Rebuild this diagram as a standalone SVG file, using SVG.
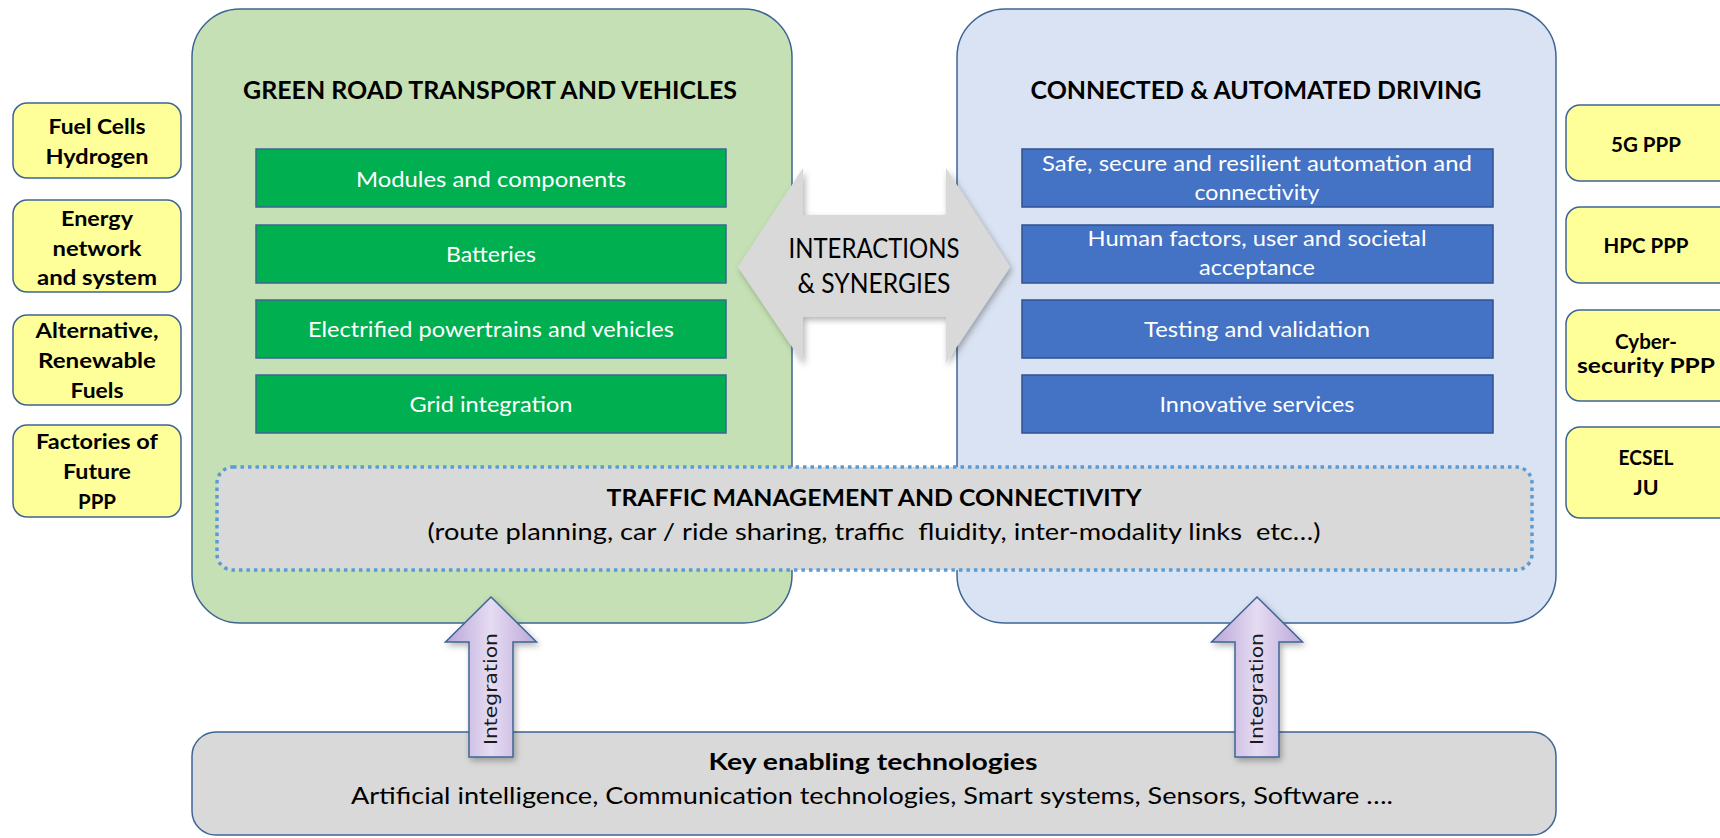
<svg xmlns="http://www.w3.org/2000/svg" width="1720" height="838" viewBox="0 0 1720 838">
  <defs>
    <style>
      .t { font-family: Lato, "Liberation Sans", Arial, sans-serif; text-anchor: middle; }
      .b { font-weight: bold; }
      .blk { fill: #000000; }
      .wht { fill: #FFFFFF; }
      .yel { fill: #FFFF99; stroke: #3D6594; stroke-width: 1.5; }
      .cont { stroke: #3D6594; stroke-width: 1.5; }
      .gbox { fill: #00B050; stroke: #3D6594; stroke-width: 1.5; }
      .bbox { fill: #4472C4; stroke: #2F528F; stroke-width: 1.5; }
      .integ { fill: url(#lav); stroke: #3D6594; stroke-width: 1.5; }
      .itxt { font-family: "DejaVu Sans", Verdana, sans-serif; text-anchor: middle; fill: #1A1A1A; }
    </style>
    <linearGradient id="lav" x1="0" y1="0" x2="1" y2="0">
      <stop offset="0" stop-color="#B9A5D8"/>
      <stop offset="0.5" stop-color="#E6DCF2"/>
      <stop offset="1" stop-color="#BBA7D9"/>
    </linearGradient>
    <filter id="shadow" x="-10%" y="-10%" width="130%" height="130%">
      <feDropShadow dx="2" dy="3" stdDeviation="3" flood-color="#000" flood-opacity="0.3"/>
    </filter>
  </defs>

  <!-- Containers -->
  <g id="green-container">
    <rect class="cont" x="192" y="9" width="600" height="614" rx="48" fill="#C5E0B4"/>
    <text class="t b blk" x="490" y="99" font-size="24" textLength="494" lengthAdjust="spacingAndGlyphs">GREEN ROAD TRANSPORT AND VEHICLES</text>
  </g>
  <g id="blue-container">
    <rect class="cont" x="957" y="9" width="599" height="614" rx="48" fill="#DAE3F3"/>
    <text class="t b blk" x="1256" y="99" font-size="24" textLength="451" lengthAdjust="spacingAndGlyphs">CONNECTED &amp; AUTOMATED DRIVING</text>
  </g>

  <!-- Green inner boxes -->
  <g id="modules">
    <rect class="gbox" x="256" y="149" width="470" height="58"/>
    <text class="t wht" x="491" y="187" font-size="22" textLength="270" lengthAdjust="spacingAndGlyphs">Modules and components</text>
  </g>
  <g id="batteries">
    <rect class="gbox" x="256" y="225" width="470" height="58"/>
    <text class="t wht" x="491" y="262" font-size="22" textLength="90" lengthAdjust="spacingAndGlyphs">Batteries</text>
  </g>
  <g id="powertrains">
    <rect class="gbox" x="256" y="300" width="470" height="58"/>
    <text class="t wht" x="491" y="337" font-size="22" textLength="366" lengthAdjust="spacingAndGlyphs">Electrified powertrains and vehicles</text>
  </g>
  <g id="grid">
    <rect class="gbox" x="256" y="375" width="470" height="58"/>
    <text class="t wht" x="491" y="412" font-size="22" textLength="163" lengthAdjust="spacingAndGlyphs">Grid integration</text>
  </g>

  <!-- Blue inner boxes -->
  <g id="safe">
    <rect class="bbox" x="1022" y="149" width="471" height="58"/>
    <text class="t wht" x="1257" y="171" font-size="22" textLength="430" lengthAdjust="spacingAndGlyphs">Safe, secure and resilient automation and</text>
    <text class="t wht" x="1257" y="200" font-size="22" textLength="125" lengthAdjust="spacingAndGlyphs">connectivity</text>
  </g>
  <g id="human">
    <rect class="bbox" x="1022" y="225" width="471" height="58"/>
    <text class="t wht" x="1257" y="246" font-size="22" textLength="339" lengthAdjust="spacingAndGlyphs">Human factors, user and societal</text>
    <text class="t wht" x="1257" y="275" font-size="22" textLength="116" lengthAdjust="spacingAndGlyphs">acceptance</text>
  </g>
  <g id="testing">
    <rect class="bbox" x="1022" y="300" width="471" height="58"/>
    <text class="t wht" x="1257" y="337" font-size="22" textLength="226" lengthAdjust="spacingAndGlyphs">Testing and validation</text>
  </g>
  <g id="innovative">
    <rect class="bbox" x="1022" y="375" width="471" height="58"/>
    <text class="t wht" x="1257" y="412" font-size="22" textLength="195" lengthAdjust="spacingAndGlyphs">Innovative services</text>
  </g>

  <!-- Traffic management -->
  <g id="traffic">
    <rect x="217" y="467" width="1315" height="103" rx="16" fill="#D9D9D9" stroke="#5B9BD5" stroke-width="3.5" stroke-dasharray="3.5 4"/>
    <text class="t b blk" x="874" y="506" font-size="23" textLength="535" lengthAdjust="spacingAndGlyphs">TRAFFIC MANAGEMENT AND CONNECTIVITY</text>
    <text class="t blk" x="874" y="540" font-size="23" textLength="893" lengthAdjust="spacingAndGlyphs" style="white-space:pre">(route planning, car / ride sharing, traffic  fluidity, inter-modality links  etc…)</text>
  </g>

  <!-- Key enabling technologies -->
  <g id="key">
    <rect class="cont" x="192" y="732" width="1364" height="103" rx="24" fill="#D9D9D9"/>
    <text class="t b blk" x="873" y="770" font-size="23" textLength="329" lengthAdjust="spacingAndGlyphs">Key enabling technologies</text>
    <text class="t blk" x="872" y="804" font-size="23" textLength="1042" lengthAdjust="spacingAndGlyphs">Artificial intelligence, Communication technologies, Smart systems, Sensors, Software ….</text>
  </g>

  <!-- Left yellow boxes -->
  <g id="fuel-cells">
    <rect class="yel" x="13" y="103" width="168" height="75" rx="14"/>
    <text class="t b blk" x="97" y="134" font-size="21" textLength="97" lengthAdjust="spacingAndGlyphs">Fuel Cells</text>
    <text class="t b blk" x="97" y="164" font-size="21" textLength="103" lengthAdjust="spacingAndGlyphs">Hydrogen</text>
  </g>
  <g id="energy">
    <rect class="yel" x="13" y="200" width="168" height="92" rx="14"/>
    <text class="t b blk" x="97" y="226" font-size="21" textLength="72" lengthAdjust="spacingAndGlyphs">Energy</text>
    <text class="t b blk" x="97" y="256" font-size="21" textLength="89" lengthAdjust="spacingAndGlyphs">network</text>
    <text class="t b blk" x="97" y="285" font-size="21" textLength="120" lengthAdjust="spacingAndGlyphs">and system</text>
  </g>
  <g id="alternative">
    <rect class="yel" x="13" y="315" width="168" height="90" rx="14"/>
    <text class="t b blk" x="97" y="338" font-size="21" textLength="123" lengthAdjust="spacingAndGlyphs">Alternative,</text>
    <text class="t b blk" x="97" y="368" font-size="21" textLength="118" lengthAdjust="spacingAndGlyphs">Renewable</text>
    <text class="t b blk" x="97" y="398" font-size="21" textLength="53" lengthAdjust="spacingAndGlyphs">Fuels</text>
  </g>
  <g id="factories">
    <rect class="yel" x="13" y="425" width="168" height="92" rx="14"/>
    <text class="t b blk" x="97" y="449" font-size="21" textLength="122" lengthAdjust="spacingAndGlyphs">Factories of</text>
    <text class="t b blk" x="97" y="479" font-size="21" textLength="68" lengthAdjust="spacingAndGlyphs">Future</text>
    <text class="t b blk" x="97" y="509" font-size="21" textLength="38" lengthAdjust="spacingAndGlyphs">PPP</text>
  </g>

  <!-- Right yellow boxes -->
  <g id="fiveg">
    <rect class="yel" x="1566" y="105" width="174" height="76" rx="14"/>
    <text class="t b blk" x="1646" y="152" font-size="21" textLength="70" lengthAdjust="spacingAndGlyphs">5G PPP</text>
  </g>
  <g id="hpc">
    <rect class="yel" x="1566" y="207" width="174" height="76" rx="14"/>
    <text class="t b blk" x="1646" y="253" font-size="21" textLength="85" lengthAdjust="spacingAndGlyphs">HPC PPP</text>
  </g>
  <g id="cyber">
    <rect class="yel" x="1566" y="310" width="174" height="91" rx="14"/>
    <text class="t b blk" x="1646" y="349" font-size="21" textLength="62" lengthAdjust="spacingAndGlyphs">Cyber-</text>
    <text class="t b blk" x="1646" y="373" font-size="21" textLength="138" lengthAdjust="spacingAndGlyphs">security PPP</text>
  </g>
  <g id="ecsel">
    <rect class="yel" x="1566" y="427" width="174" height="91" rx="14"/>
    <text class="t b blk" x="1646" y="465" font-size="21" textLength="55" lengthAdjust="spacingAndGlyphs">ECSEL</text>
    <text class="t b blk" x="1646" y="495" font-size="21" textLength="25" lengthAdjust="spacingAndGlyphs">JU</text>
  </g>

  <!-- Connectors -->
  <g id="connectors">
    <g id="interactions">
      <polygon points="738,267 803,168 803,215 946,215 946,168 1010,267 946,363 946,317 803,317 803,363" fill="#D9D9D9" filter="url(#shadow)"/>
      <text class="t blk" x="874" y="258" font-size="26" textLength="171" lengthAdjust="spacingAndGlyphs">INTERACTIONS</text>
      <text class="t blk" x="874" y="293" font-size="26" textLength="153" lengthAdjust="spacingAndGlyphs">&amp; SYNERGIES</text>
    </g>
    <g id="integration-left">
      <polygon class="integ" points="491,597 536.5,642 513,642 513,757 469,757 469,642 445.5,642" filter="url(#shadow)"/>
      <text class="itxt" transform="translate(497,689) rotate(-90)" font-size="17" textLength="112" lengthAdjust="spacingAndGlyphs">Integration</text>
    </g>
    <g id="integration-right">
      <polygon class="integ" points="1257,597 1302.5,642 1279,642 1279,757 1235,757 1235,642 1211.5,642" filter="url(#shadow)"/>
      <text class="itxt" transform="translate(1263,689) rotate(-90)" font-size="17" textLength="112" lengthAdjust="spacingAndGlyphs">Integration</text>
    </g>
  </g>
</svg>
